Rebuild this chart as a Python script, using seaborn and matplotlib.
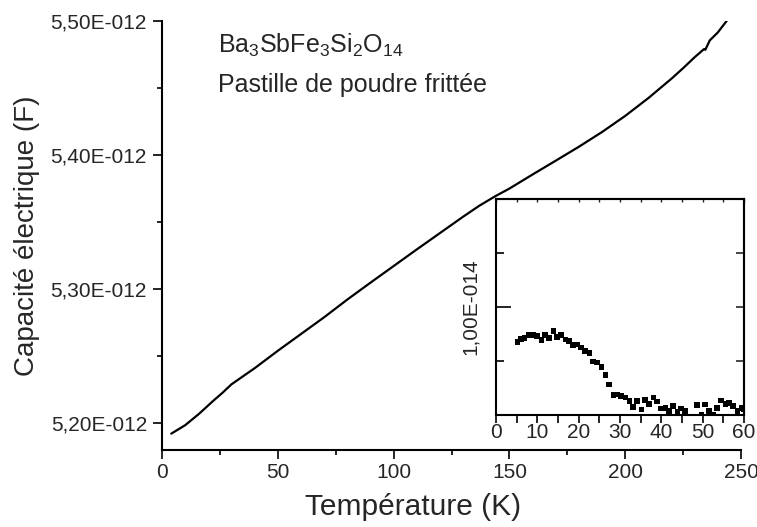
import numpy as np
import matplotlib
matplotlib.use("Agg")
import matplotlib.pyplot as plt
from matplotlib.ticker import FixedLocator, MultipleLocator, FuncFormatter
import seaborn as sns

# Capacitance vs temperature of the sintered pellet (capacitance in pF)
temperature_K = [4, 10, 16, 22, 26, 30, 40, 50, 60, 70, 80, 90, 100, 110, 120,
                 130, 137, 144, 150, 160, 170, 180, 190, 200, 210, 220, 225,
                 230, 234.0, 234.6, 236.5, 240, 244]
capacitance_pF = [5.1922, 5.1985, 5.2070, 5.2165, 5.2225, 5.2290, 5.2410,
                  5.2540, 5.2665, 5.2790, 5.2922, 5.3048, 5.3172, 5.3296,
                  5.3418, 5.3540, 5.3622, 5.3694, 5.3750, 5.3855, 5.3958,
                  5.4062, 5.4172, 5.4292, 5.4425, 5.4570, 5.4648, 5.4730,
                  5.4790, 5.4785, 5.4855, 5.4915, 5.5005]

# Low-temperature excess capacitance (units of 1e-14 F)
inset_T = [5.2, 6.1, 6.9, 7.9, 8.9, 10.0, 11.0, 11.9, 12.9, 13.9, 14.8, 15.8,
           16.8, 17.7, 18.7, 19.7, 20.6, 21.6, 22.6, 23.5, 24.5, 25.5, 26.5,
           27.4, 28.4, 29.4, 30.3, 31.3, 32.3, 33.2, 34.2, 35.2, 36.1, 37.1,
           38.1, 39.0, 40.0, 41.0, 41.9, 42.9, 43.9, 44.8, 45.8, 48.7, 49.7,
           50.6, 51.6, 52.6, 53.5, 54.5, 55.5, 56.4, 57.4, 58.4, 59.4, 60.0]
inset_dC_1e14 = [0.673, 0.704, 0.713, 0.744, 0.744, 0.729, 0.695, 0.744, 0.710,
                 0.781, 0.719, 0.738, 0.698, 0.685, 0.651, 0.654, 0.626, 0.595,
                 0.577, 0.496, 0.487, 0.447, 0.369, 0.282, 0.186, 0.189, 0.174,
                 0.161, 0.130, 0.074, 0.130, 0.050, 0.136, 0.099, 0.161, 0.124,
                 0.060, 0.065, 0.040, 0.082, 0.030, 0.060, 0.040, 0.095, 0.000,
                 0.096, 0.040, 0.000, 0.068, 0.133, 0.105, 0.111, 0.086, 0.040,
                 0.065, 0.053]

main_yticks_pF = [5.20, 5.30, 5.40, 5.50]
main_xticks = [0, 50, 100, 150, 200, 250]
inset_xticks = [0, 10, 20, 30, 40, 50, 60]
inset_yticks_1e14 = [1.00]

sns.set_style("ticks")
plt.rcParams["font.family"] = ["Liberation Sans", "DejaVu Sans"]
plt.rcParams["mathtext.default"] = "regular"

W, H = 757, 527
fig = plt.figure(figsize=(W / 100, H / 100), dpi=100)


def origin_sci(v, pos=None):
    mant, exp = f"{v:.2E}".split("E")
    e = int(exp)
    return f"{mant.replace('.', ',')}E{'-' if e < 0 else '+'}{abs(e):03d}"


# ---------------- main panel ----------------
ax = fig.add_axes([162 / W, 1 - 450 / H, 579 / W, 429 / H])
T = np.array(temperature_K)
C = np.array(capacitance_pF) * 1e-12
sns.lineplot(x=T, y=C, ax=ax, color="black", linewidth=1.6,
             sort=False, estimator=None)

ax.set_xlim(0, 250)
ax.set_ylim(5.18e-12, 5.50e-12)
ax.xaxis.set_major_locator(FixedLocator(main_xticks))
ax.xaxis.set_minor_locator(MultipleLocator(25))
ax.yaxis.set_major_locator(FixedLocator([v * 1e-12 for v in main_yticks_pF]))
ax.yaxis.set_minor_locator(MultipleLocator(0.05e-12))
ax.yaxis.set_major_formatter(FuncFormatter(origin_sci))

for s in ("top", "right"):
    ax.spines[s].set_visible(False)
for s in ("left", "bottom"):
    ax.spines[s].set_linewidth(1.5)
    ax.spines[s].set_color("black")

ax.tick_params(which="major", direction="out", length=6.5, width=1.2,
               labelsize=15, color="black")
ax.tick_params(which="minor", direction="out", length=3.8, width=1.2,
               color="black")
ax.tick_params(axis="x", which="major", pad=3)
ax.tick_params(axis="y", which="major", pad=4.3)

ax.set_xlabel("Température (K)", fontsize=21.5)
ax.set_ylabel("Capacité électrique (F)", fontsize=20)
ax.xaxis.label.set_va("center")
ax.yaxis.label.set_va("center")
ax.xaxis.set_label_coords(0.433, -0.133)
ax.yaxis.set_label_coords(-0.233, 0.5)

ax.text((218 - 162) / 579, (450 - 53) / 429,
        r"Ba$_3$SbFe$_3$Si$_2$O$_{14}$", transform=ax.transAxes,
        fontsize=18, ha="left", va="baseline")
ax.text((218 - 162) / 579, (450 - 92) / 429,
        "Pastille de poudre frittée", transform=ax.transAxes,
        fontsize=18, ha="left", va="baseline")

# ---------------- inset ----------------
ax2 = fig.add_axes([496 / W, 1 - 415 / H, 248 / W, 216 / H])
ax2.set_facecolor("white")
sns.scatterplot(x=np.array(inset_T), y=np.array(inset_dC_1e14) * 1e-14,
                ax=ax2, marker="s", s=17, color="black", edgecolor="none",
                linewidth=0)
ax2.set_xlim(0, 60)
ax2.set_ylim(0, 2e-14)
ax2.xaxis.set_major_locator(FixedLocator(inset_xticks))
ax2.xaxis.set_minor_locator(MultipleLocator(5))
ax2.yaxis.set_major_locator(FixedLocator([v * 1e-14 for v in inset_yticks_1e14]))
ax2.yaxis.set_minor_locator(MultipleLocator(0.5e-14))
ax2.yaxis.set_major_formatter(FuncFormatter(origin_sci))
ax2.set_xlabel("")
ax2.set_ylabel("")
for s in ax2.spines.values():
    s.set_linewidth(1.5)
    s.set_color("black")

ax2.tick_params(axis="x", which="both", direction="out", length=5.5,
                width=1.2, labelsize=15, pad=0.5, color="black")
ax2.tick_params(axis="y", which="major", direction="in", length=11,
                width=1.2, labelsize=15, pad=18.7, color="black")
ax2.tick_params(axis="y", which="minor", direction="in", length=5.5,
                width=1.2, color="black")
for lbl in ax2.get_yticklabels():
    lbl.set_rotation(90)
    lbl.set_ha("center")
    lbl.set_va("center")

top = ax2.secondary_xaxis("top")
top.xaxis.set_major_locator(MultipleLocator(5))
top.tick_params(direction="in", length=2.5, width=1.0, labeltop=False)
top.spines["top"].set_linewidth(1.5)
right = ax2.secondary_yaxis("right")
right.yaxis.set_major_locator(MultipleLocator(0.5e-14))
right.tick_params(direction="in", length=5.5, width=1.2, labelright=False)
right.spines["right"].set_linewidth(1.5)

fig.savefig("out.png", dpi=100)
